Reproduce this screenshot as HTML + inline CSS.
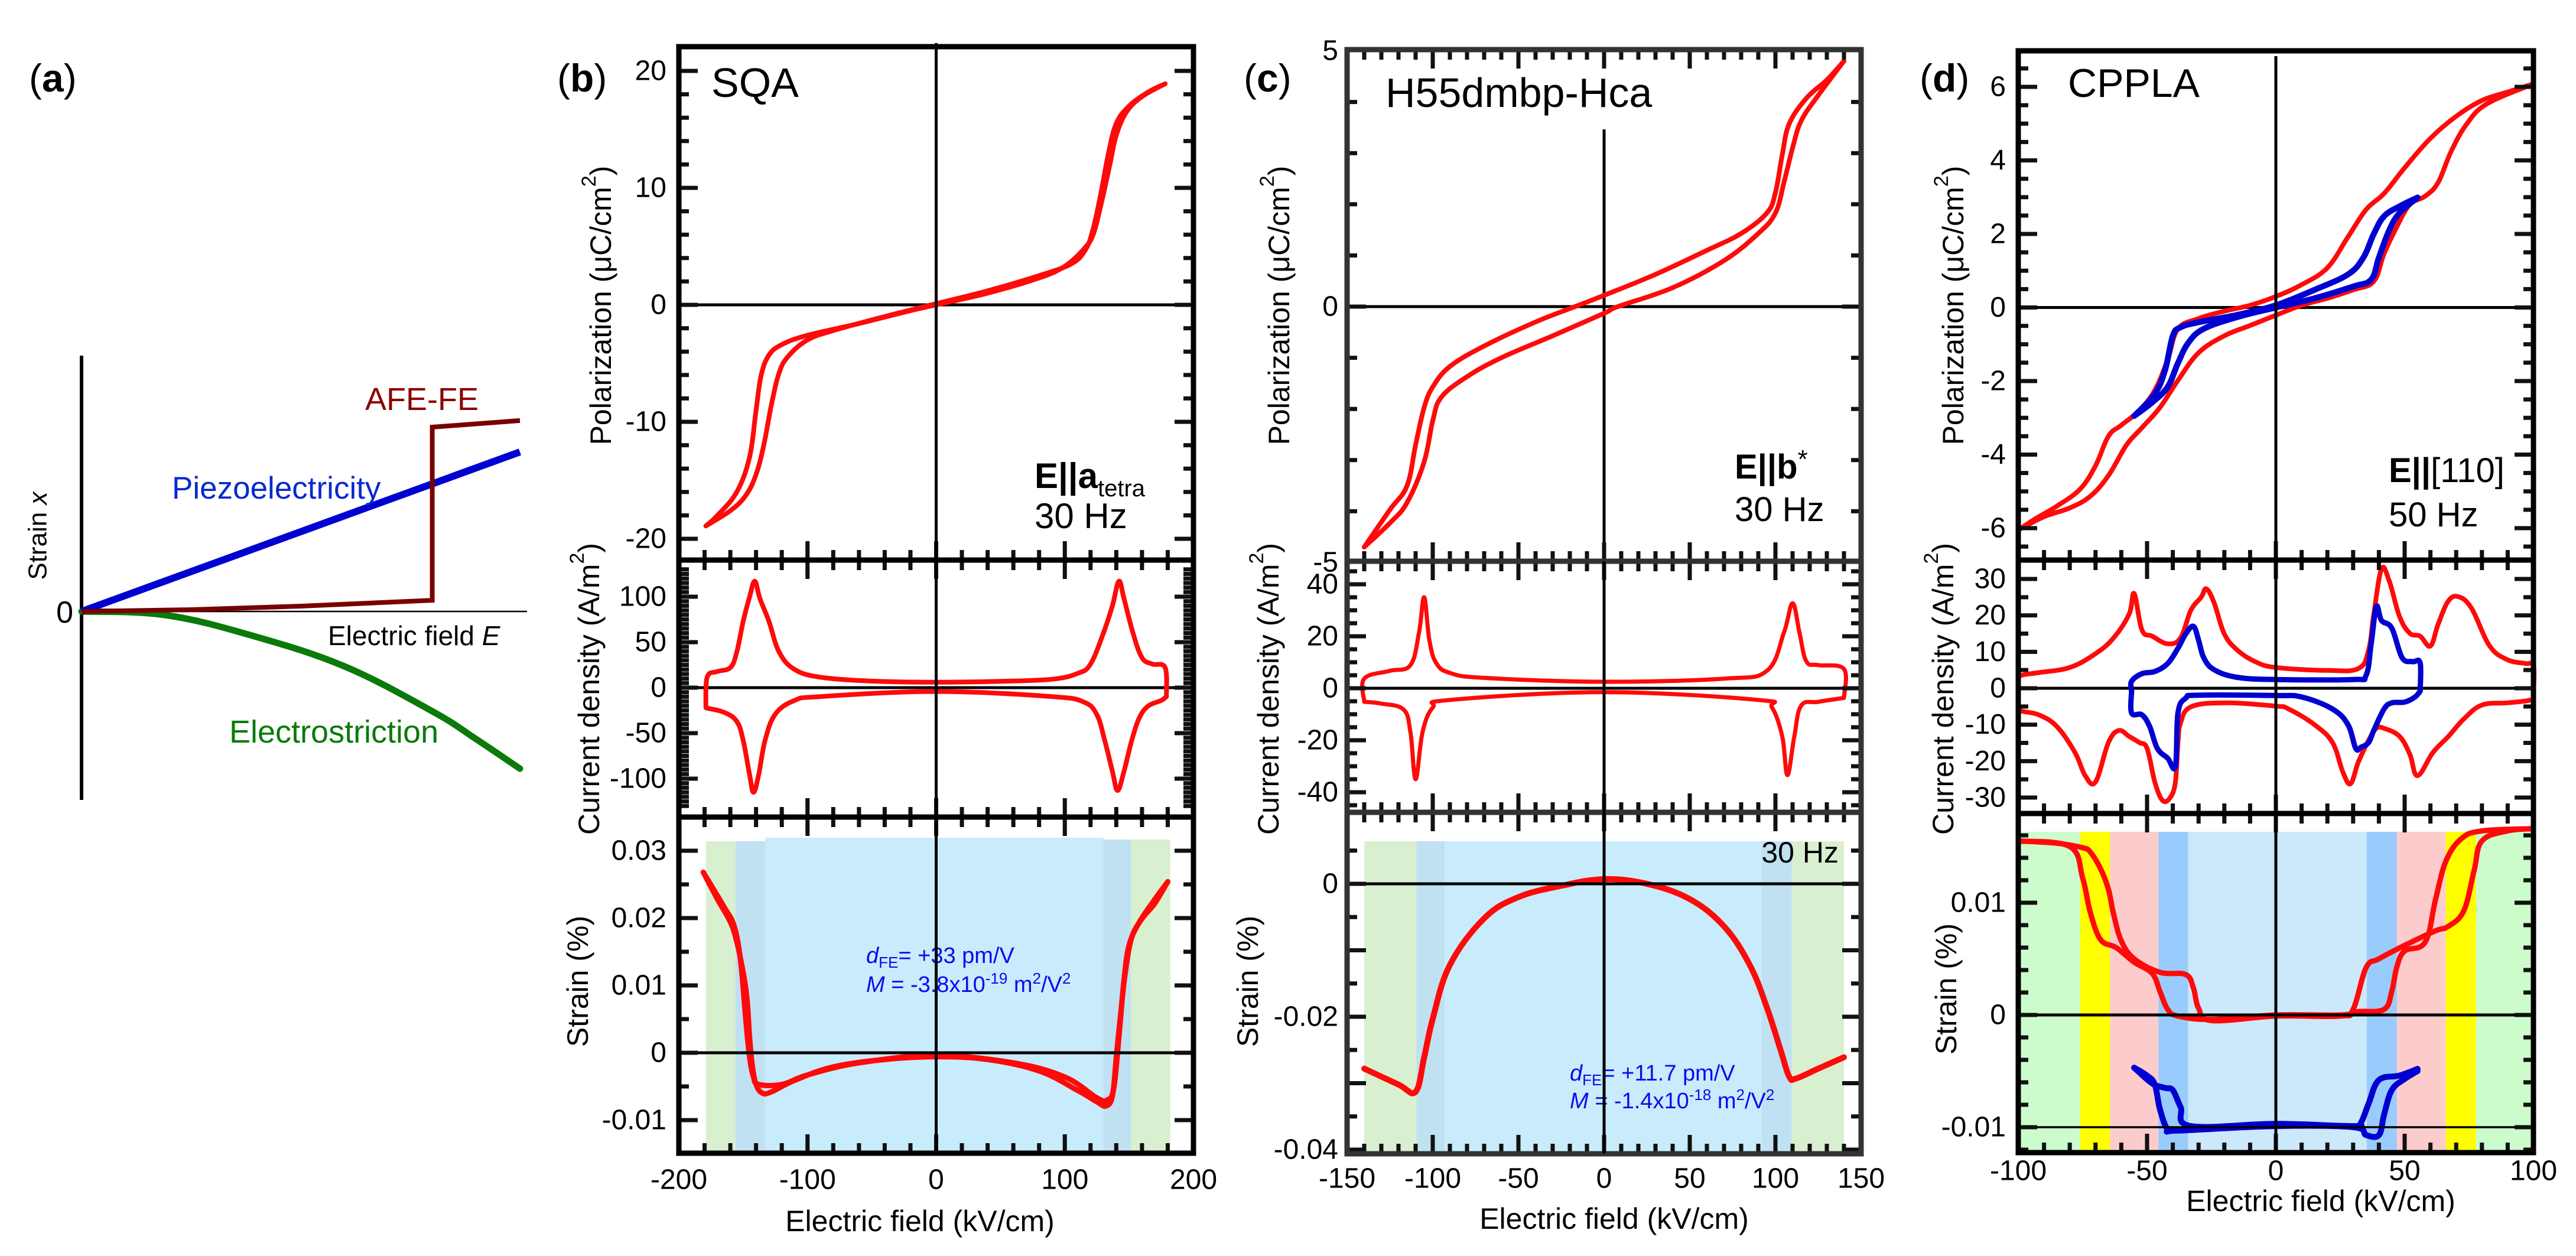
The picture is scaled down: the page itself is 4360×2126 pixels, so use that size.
<!DOCTYPE html>
<html><head><meta charset="utf-8">
<style>
html,body{margin:0;padding:0;background:#fff;}
svg{display:block;font-family:"Liberation Sans",Arial,sans-serif;}
</style></head>
<body>
<svg id="fig" width="4360" height="2126" viewBox="0 0 4360 2126" xmlns="http://www.w3.org/2000/svg"></svg>
<script>
// ---------------- DATA ----------------
const aPiezo = [[0,0],[1,0.9]];
const aAFE = [[0,0],[0.25,0.01],[0.5,0.03],[0.8,0.063],[0.8,1.04],[1,1.077]];
const aElectro = [[0,0],[0.19,-0.02],[0.39,-0.137],[0.6,-0.31],[0.8,-0.563],[0.9,-0.72],[1,-0.887]];

const bPolUp = [[-179,-18.9],[-170,-18],[-155,-16],[-145,-13],[-140,-9],[-136,-6],[-130,-4.3],[-120,-3.4],[-100,-2.6],[-60,-1.6],[-20,-0.5],[0,0],[40,1.0],[80,2.3],[100,3.3],[115,4.8],[122,6],[128,8.5],[135,12],[140,14.5],[148,16.5],[160,17.8],[178,18.9]];
const bPolDn = [[178,18.9],[165,18.2],[150,17],[140,15.5],[134,13],[128,9.5],[122,6.5],[116,4.7],[105,3.5],[80,2.5],[40,1.2],[0,0.1],[-40,-1.0],[-80,-2.2],[-100,-3.0],[-115,-4.4],[-122,-5.8],[-128,-8.5],[-134,-12],[-140,-14.5],[-148,-16.3],[-160,-17.6],[-179,-18.9]];
const bCurUp = [[-179,-22],[-178,11.5],[-170,17.8],[-160,22],[-155,39],[-150,73],[-145,100],[-141,117],[-137,98],[-130,73],[-122,39],[-110,20],[-90,11.5],[-50,7.2],[0,6],[50,7],[90,9.3],[110,15.7],[120,26],[130,60],[137,90],[142,117],[146,98],[153,60],[160,33],[168,26],[178,22],[179,-9.8]];
const bCurDn = [[179,-9.8],[175,-14],[165,-20],[158,-33],[152,-58],[146,-92],[141,-113],[137,-92],[131,-58],[125,-30],[115,-16],[90,-9.8],[0,-4.2],[-90,-9.8],[-110,-14],[-125,-29],[-133,-58],[-138,-96],[-142,-115],[-145,-96],[-150,-58],[-155,-37],[-165,-27],[-178,-22.5]];
const bStrain1 = [[-181,0.0268],[-170,0.0228],[-160,0.0194],[-155,0.0165],[-150,0.0119],[-147,0.0079],[-145,0.0022],[-143,-0.0018],[-140,-0.0047],[-135,-0.006],[-128,-0.0058],[-110,-0.0041],[-80,-0.0021],[-40,-0.001],[0,-0.0006],[40,-0.001],[80,-0.0027],[110,-0.0056],[125,-0.0073],[132,-0.0079],[137,-0.0064],[140,-0.0007],[143,0.005],[147,0.0119],[152,0.0171],[160,0.0199],[170,0.0222],[180,0.0254]];
const bStrain2 = [[-181,0.0268],[-165,0.0217],[-157,0.0188],[-152,0.0136],[-148,0.005],[-145,-0.0007],[-142,-0.0036],[-138,-0.0047],[-120,-0.0047],[-100,-0.0033],[-60,-0.0015],[0,-0.0004],[60,-0.0015],[100,-0.0036],[125,-0.0067],[133,-0.007],[138,-0.0053],[142,0.0022],[146,0.0108],[150,0.016],[158,0.0194],[170,0.0228],[180,0.0254]];
const bBandEdges = [-179,-156,-133,130,151.5,182];

const cPolDn = [[140,4.8],[130,4.43],[118,4.07],[108,3.57],[104,2.97],[100,2.23],[95,1.83],[80,1.43],[60,1.1],[30,0.63],[0,0.22],[-17,0],[-40,-0.3],[-70,-0.77],[-90,-1.17],[-100,-1.57],[-105,-1.97],[-110,-2.7],[-115,-3.5],[-125,-3.97],[-140,-4.7]];
const cPolUp = [[-140,-4.7],[-125,-4.23],[-115,-3.83],[-105,-3.03],[-100,-2.23],[-95,-1.77],[-80,-1.37],[-60,-1.0],[-30,-0.57],[0,-0.13],[8,0],[40,0.37],[70,0.9],[90,1.43],[100,1.83],[105,2.43],[110,3.1],[115,3.63],[125,4.13],[140,4.8]];
const cCurUp = [[-140,-5.2],[-140,3.7],[-125,6.7],[-113,8.9],[-108,21.5],[-105,35],[-102,18.6],[-98,9.7],[-90,5.9],[-70,4],[0,2.5],[70,3.7],[95,6.7],[105,21.5],[110,32.7],[114,21.5],[118,10.4],[125,8.9],[140,7.4],[140,-3.7]];
const cCurDn = [[140,-3.7],[125,-5.2],[115,-6.7],[111,-18.6],[107,-33.4],[104,-18.6],[98,-7.4],[90,-4.5],[0,-1.5],[-90,-4.5],[-100,-7.4],[-106,-17],[-110,-35],[-113,-17],[-117,-8.2],[-130,-5.9],[-140,-5.2]];
const cStrain = [[-140,-0.0278],[-120,-0.0302],[-110,-0.0313],[-105,-0.0261],[-100,-0.0203],[-90,-0.0122],[-70,-0.0052],[-50,-0.002],[-25,-0.0003],[0,0.0007],[25,0],[50,-0.0023],[70,-0.0064],[85,-0.0122],[95,-0.0186],[103,-0.025],[108,-0.029],[112,-0.0293],[125,-0.0278],[140,-0.0261]];
const cBandEdges = [-140,-109.5,-93,92,109.5,140];

const dPolDn = [[100,6.08],[90,5.86],[80,5.63],[70,5.2],[60,4.6],[50,3.8],[42,3.1],[35,2.66],[28,1.92],[20,1.08],[10,0.62],[0,0.3],[-10,0.06],[-20,-0.1],[-30,-0.3],[-38,-0.58],[-42,-1.42],[-47,-2.25],[-53,-2.8],[-60,-3.2],[-65,-3.5],[-70,-4.3],[-76,-4.94],[-85,-5.4],[-93,-5.73],[-100,-6.05]];
const dPolUp = [[-100,-6.05],[-90,-5.69],[-80,-5.45],[-72,-5.13],[-65,-4.57],[-58,-3.74],[-52,-3.27],[-45,-2.72],[-38,-1.98],[-30,-1.23],[-20,-0.77],[-10,-0.49],[0,-0.21],[10,0.06],[20,0.25],[30,0.48],[38,0.71],[42,1.46],[47,2.2],[52,2.8],[58,3.03],[63,3.4],[68,4.24],[74,4.98],[82,5.54],[100,6.08]];
const dPolBlueUp = [[-55,-2.95],[-48,-2.58],[-42,-2.16],[-38,-1.51],[-34,-0.96],[-28,-0.58],[-15,-0.26],[0,0],[15,0.25],[30,0.57],[37,0.76],[40,1.36],[44,2.1],[48,2.57],[55,2.99]];
const dPolBlueDn = [[55,2.99],[48,2.75],[42,2.48],[38,2.0],[34,1.36],[28,0.9],[15,0.48],[0,0.06],[-15,-0.2],[-30,-0.4],[-37,-0.54],[-40,-0.77],[-43,-1.7],[-47,-2.35],[-55,-2.95]];
const dCurUp = [[-100,-5],[-100,1.9],[-99,3.5],[-92,4.3],[-80,5.7],[-70,9.5],[-63,13.8],[-57,20.3],[-55,26],[-52,16],[-48,14.3],[-42,12.2],[-37,13.8],[-33,21.4],[-29,25],[-27,27.3],[-24,23.5],[-20,14.9],[-15,10.5],[-8,7.3],[0,5.7],[20,4.9],[32,5.4],[36,10.5],[38,20.3],[41,32.7],[44,29.5],[48,19.7],[52,15.1],[56,14.3],[60,11.6],[63,17.6],[67,24],[71,25.1],[76,21.9],[83,11.6],[90,7.8],[97,6.8],[100,6.2],[100,-1.4],[100,-3]];
const dCurDn = [[100,-3],[97,-3.5],[90,-4],[80,-4.6],[73,-8.4],[67,-13.2],[61,-17.6],[55,-24],[52,-18.1],[48,-13.2],[42,-11],[39,-11],[36,-14.3],[32,-20.3],[29,-26.2],[26,-23],[22,-14.9],[15,-10],[5,-5.7],[0,-4.9],[-20,-4],[-33,-5.1],[-37,-9.5],[-38,-14.9],[-39,-25.7],[-41,-30],[-44,-30.8],[-47,-25.7],[-50,-16.5],[-53,-14.9],[-57,-13.2],[-61,-11.6],[-65,-14.9],[-70,-25.7],[-74,-24],[-78,-17.6],[-85,-10.5],[-92,-7.3],[-99,-6.2],[-100,-5]];
const dCurBlueUp = [[-56,-0.8],[-56,1.9],[-52,4],[-47,4.6],[-42,6.8],[-38,11],[-35,14.9],[-32,17],[-30,13.2],[-28,8.4],[-24,5.1],[-15,3],[0,2.4],[30,2.4],[35,3.5],[37,12.2],[39,22.4],[41,18.6],[45,16.5],[49,8.4],[53,7.3],[56,7],[56,-0.8]];
const dCurBlueDn = [[56,-0.8],[54,-2.4],[50,-3.8],[45,-4],[42,-5.7],[38,-11.6],[36,-14.9],[33,-16.2],[31,-16.5],[28,-10],[22,-5.7],[10,-2.4],[0,-2],[-30,-1.9],[-35,-2.7],[-38,-6.8],[-39,-21.4],[-42,-19.2],[-46,-16.5],[-49,-10.5],[-52,-7.3],[-56,-6.8],[-56,-0.8]];
const dStrainA = [[-100,0.0155],[-85,0.0153],[-75,0.0149],[-72,0.0145],[-68,0.013],[-65,0.0112],[-63,0.009],[-60,0.0066],[-55,0.005],[-45,0.0038],[-35,0.0036],[-32,0.0024],[-30,0.0006],[-25,-0.0005],[0,-0.0001],[25,-0.0001],[30,0.0005],[35,0.0042],[40,0.005],[50,0.0062],[62,0.0075],[67,0.0079],[73,0.0093],[77,0.0129],[80,0.0155],[90,0.0164],[100,0.0166]];
const dStrainB = [[-100,0.0155],[-80,0.015],[-75,0.0122],[-72,0.0091],[-68,0.0067],[-62,0.006],[-55,0.0047],[-48,0.0037],[-45,0.0021],[-42,0.0005],[-38,-0.0001],[-25,-0.0004],[0,0],[25,0],[32,0.0003],[42,0.0005],[45,0.0021],[47,0.0043],[50,0.0057],[58,0.0065],[62,0.0103],[66,0.0137],[72,0.0157],[80,0.0164],[100,0.0166]];
const dStrainBlueA = [[-55,-0.0047],[-50,-0.0054],[-47,-0.0062],[-45,-0.0084],[-42,-0.0102],[-38,-0.0103],[0,-0.0099],[30,-0.01],[35,-0.0107],[40,-0.0107],[42,-0.0089],[45,-0.0067],[50,-0.0057],[55,-0.005]];
const dStrainBlueB = [[-55,-0.0047],[-48,-0.0061],[-43,-0.0065],[-40,-0.0067],[-37,-0.0082],[-33,-0.0099],[0,-0.0097],[30,-0.0099],[33,-0.0096],[36,-0.0079],[40,-0.0058],[48,-0.0054],[55,-0.0048]];
const dBandEdges = [-100,-76,-64.4,-45.6,-34,35.3,47,66,77.7,100];

const bXTicks = [-200,-100,0,100,200];
const cXTicks = [-150,-100,-50,0,50,100,150];
const dXTicks = [-100,-50,0,50,100];
const bPolTicks = [20,10,0,-10,-20];
const bCurTicks = [100,50,0,-50,-100];
const bStrTicks = [0.03,0.02,0.01,0,-0.01];
const cPolTicks = [5,0,-5];
const cCurTicks = [40,20,0,-20,-40];
const cStrTicks = [0,-0.02,-0.04];
const dPolTicks = [6,4,2,0,-2,-4,-6];
const dCurTicks = [30,20,10,0,-10,-20,-30];
const dStrTicks = [0.01,0,-0.01];

// ---------------- DRAWING ----------------
const NS = "http://www.w3.org/2000/svg";
const svg = document.getElementById('fig');
function mk(tag, attrs, parent) {
  const e = document.createElementNS(NS, tag);
  for (const k in attrs) e.setAttribute(k, attrs[k]);
  (parent || svg).appendChild(e);
  return e;
}
function lin(v1, p1, v2, p2) { return v => p1 + (v - v1) * (p2 - p1) / (v2 - v1); }

function smoothPath(P) {
  if (P.length < 3) return 'M' + P.map(p => p[0].toFixed(1) + ',' + p[1].toFixed(1)).join('L');
  let d = 'M' + P[0][0].toFixed(1) + ',' + P[0][1].toFixed(1);
  const k = 0.18;
  for (let i = 0; i < P.length - 1; i++) {
    const p0 = P[i - 1] || P[i], p1 = P[i], p2 = P[i + 1], p3 = P[i + 2] || P[i + 1];
    const c1 = [p1[0] + (p2[0] - p0[0]) * k, p1[1] + (p2[1] - p0[1]) * k];
    const c2 = [p2[0] - (p3[0] - p1[0]) * k, p2[1] - (p3[1] - p1[1]) * k];
    d += 'C' + c1[0].toFixed(1) + ',' + c1[1].toFixed(1) + ' ' + c2[0].toFixed(1) + ',' + c2[1].toFixed(1) + ' ' + p2[0].toFixed(1) + ',' + p2[1].toFixed(1);
  }
  return d;
}
function polyline(pts, fx, fy, color, w, name, parent) {
  const P = pts.map(p => [fx(p[0]), fy(p[1])]);
  const e = mk('path', {d: smoothPath(P), fill: 'none', stroke: color, 'stroke-width': w, 'stroke-linejoin': 'round', 'stroke-linecap': 'round'}, parent);
  
  
  return e;
}
function straight(pts, fx, fy, color, w, name, parent) {
  const e = mk('polyline', {points: pts.map(p => fx(p[0]).toFixed(1) + ',' + fy(p[1]).toFixed(1)).join(' '), fill: 'none', stroke: color, 'stroke-width': w, 'stroke-linejoin': 'miter'}, parent);
  
  
  return e;
}
function text(str, x, y, size, opts, name, parent) {
  const e = mk('text', Object.assign({x: x, y: y, 'font-size': size, fill: '#000'}, opts || {}), parent);
  e.textContent = str;
  
  
  return e;
}
function fmt(v) { return (v < 0 ? '-' : '') + String(Math.abs(v)); }

function ticks(g, L, R, t, b, fx, fy, xmin, xmax, xMaj, xMin, ymin, ymax, yMaj, yMin, sides) {
  const ML = 32, mL = 17, sw = 7, col = '#111';
  const eps = 1e-9;
  const yStart = Math.ceil(ymin / yMin - eps) * yMin;
  for (let v = yStart; v <= ymax + eps; v += yMin) {
    const isMaj = Math.abs(v / yMaj - Math.round(v / yMaj)) < 1e-6;
    const y = fy(v); if (y < t + 4 || y > b - 4) continue;
    const len = isMaj ? ML : mL;
    const tk = mk('path', {d: `M${L},${y}h${len}M${R},${y}h${-len}`, stroke: col, 'stroke-width': sw}, g);
    
    
  }
  const xStart = Math.ceil(xmin / xMin - eps) * xMin;
  for (let v = xStart; v <= xmax + eps; v += xMin) {
    const isMaj = Math.abs(v / xMaj - Math.round(v / xMaj)) < 1e-6;
    const x = fx(v); if (x < L + 4 || x > R - 4) continue;
    const len = isMaj ? ML : mL;
    let d = '';
    if (sides.bottom) d += `M${x},${b}v${-len}`;
    if (sides.top) d += `M${x},${t}v${len}`;
    if (!d) continue;
    const tk = mk('path', {d: d, stroke: col, 'stroke-width': sw}, g);
    
    
  }
}

function bands(g, edges, colors, fx, top, bottom, tops) {
  for (let i = 0; i < edges.length - 1; i++) {
    const r = mk('rect', {x: fx(edges[i]), y: tops ? tops[i] : top, width: fx(edges[i + 1]) - fx(edges[i]), height: bottom - (tops ? tops[i] : top), fill: colors[i]}, g);
    
    
  }
}
function frame(g, L, R, t, b, col) {
  const f = mk('rect', {x: L, y: t, width: R - L, height: b - t, fill: 'none', stroke: col || '#000', 'stroke-width': 9}, g);
  
  
}
function hline(g, L, R, y, w, name) {
  const l = mk('line', {x1: L, x2: R, y1: y, y2: y, stroke: '#000', 'stroke-width': w}, g);
  
  
}
function vline(g, x, y1, y2, w, name) {
  const l = mk('line', {x1: x, x2: x, y1: y1, y2: y2, stroke: '#000', 'stroke-width': w}, g);
  
  
}
function ylabel(g, x, y, parts, name) {
  const t = mk('text', {x: x, y: y, 'font-size': 50, 'text-anchor': 'middle', 'dominant-baseline': 'central', transform: `rotate(-90 ${x} ${y})`}, g);
  parts.forEach(p => {
    const s = mk('tspan', p.sup ? {'font-size': 34, dy: -20} : (p.after ? {dy: 20} : {}), t);
    s.textContent = p.s;
  });
  
  
}
function tickLabels(g, vals, xr, fy, name) {
  vals.forEach(v => { text(fmt(v), xr, fy(v), 48, {'text-anchor': 'end', 'dominant-baseline': 'central'}, name, g); });
}
function xTickLabels(g, vals, fx, y, name) {
  vals.forEach(v => { text(fmt(v), fx(v), y, 48, {'text-anchor': 'middle', 'dominant-baseline': 'central'}, name, g); });
}
const polParts = [{s: 'Polarization (μC/cm'}, {s: '2', sup: true}, {s: ')', after: true}];
const curParts = [{s: 'Current density (A/m'}, {s: '2', sup: true}, {s: ')', after: true}];
const strParts = [{s: 'Strain (%)'}];
const RED = '#ff0a0a', BLUE = '#0000d0', RW = 8, BW = 10;

// ===== Panel (a) =====
(function(){
  const g = mk('g', {});
  
  
  const fx = v => 138 + v * 742, fy = v => 1035 - v * 300;
  vline(g, 138, 602, 1354, 6, 'strain-axis');
  hline(g, 138, 892, 1035, 2.5, 'field-axis');
  polyline(aElectro, fx, fy, '#0a7a0a', 11, 'electrostriction-curve', g);
  straight(aPiezo, fx, fy, '#0000d0', 12, 'piezoelectricity-line', g);
  straight(aAFE, fx, fy, '#780000', 8, 'afe-fe-curve', g);
  text('AFE-FE', 618, 694, 54, {fill: '#8b0000'}, 'afe-fe-label', g);
  text('Piezoelectricity', 291, 844, 53, {fill: '#0a28d0'}, 'piezoelectricity-label', g);
  const ef = text('Electric field  ', 555, 1092, 46, {}, 'field-axis-title', g);
  const ei = mk('tspan', {'font-style': 'italic'}, ef); ei.textContent = 'E';
  text('Electrostriction', 388, 1257, 54, {fill: '#0a7a0a'}, 'electrostriction-label', g);
  const sx = mk('text', {x: 64, y: 907, 'font-size': 44, 'text-anchor': 'middle', 'dominant-baseline': 'central', transform: 'rotate(-90 64 907)'}, g);
  sx.textContent = 'Strain ';
  const sxi = mk('tspan', {'font-style': 'italic'}, sx); sxi.textContent = 'x';
  
  
  text('0', 124, 1054, 52, {'text-anchor': 'end'}, 'zero-label', g);
})();

function panelLabel(x, letter) {
  const t = mk('text', {x: x, y: 155, 'font-size': 66});
  t.appendChild(document.createTextNode('('));
  const b = mk('tspan', {'font-weight': 'bold'}, t); b.textContent = letter;
  t.appendChild(document.createTextNode(')'));
  
  
}
panelLabel(49, 'a'); panelLabel(943, 'b'); panelLabel(2105, 'c'); panelLabel(3249, 'd');

function annot(g, x, y1, y2, dval, mval, mexp) {
  const d1 = text('', x, y1, 38, {fill: '#0a0af0'}, 'dfe-annotation', g);
  const d1a = mk('tspan', {'font-style': 'italic'}, d1); d1a.textContent = 'd';
  const d1b = mk('tspan', {'font-size': 26, dy: 8}, d1); d1b.textContent = 'FE';
  const d1c = mk('tspan', {dy: -8}, d1); d1c.textContent = '= ' + dval + ' pm/V';
  const m1 = text('', x, y2, 38, {fill: '#0a0af0'}, 'm-annotation', g);
  const m1a = mk('tspan', {'font-style': 'italic'}, m1); m1a.textContent = 'M';
  const m1b = mk('tspan', {}, m1); m1b.textContent = ' = ' + mval + 'x10';
  const m1c = mk('tspan', {'font-size': 26, dy: -14}, m1); m1c.textContent = mexp;
  const m1d = mk('tspan', {dy: 14}, m1); m1d.textContent = ' m';
  const m1e = mk('tspan', {'font-size': 26, dy: -14}, m1); m1e.textContent = '2';
  const m1f = mk('tspan', {dy: 14}, m1); m1f.textContent = '/V';
  const m1g = mk('tspan', {'font-size': 26, dy: -14}, m1); m1g.textContent = '2';
}

// ===== Panel (b) =====
(function(){
  const L = 1149, R = 2020;
  const fx = lin(-200, L, 200, R);
  const g = mk('g', {});
  
  
  const t1 = 79, b1 = 948, fy1 = lin(20, 120, -20, 912);
  hline(g, L, R, fy1(0), 5, 'zero-line');
  polyline(bPolUp, fx, fy1, RED, RW, 'polarization-up-branch', g);
  polyline(bPolDn, fx, fy1, RED, RW, 'polarization-down-branch', g);
  ticks(g, L, R, t1, b1, fx, fy1, -200, 200, 100, 20, -22, 22, 10, 2, {bottom: true});
  frame(g, L, R, t1, b1);
  tickLabels(g, bPolTicks, 1128, fy1, 'polarization-tick-label');
  ylabel(g, 1017, 517, polParts, 'polarization-axis-title');
  text('SQA', 1204, 164, 70, {}, 'sample-name', g);
  const ea = text('E||', 1751, 826, 60, {'font-weight': 'bold'}, 'field-direction', g);
  const eb = mk('tspan', {'font-weight': 'bold'}, ea); eb.textContent = 'a';
  const es = mk('tspan', {'font-weight': 'normal', 'font-size': 40, dy: 14}, ea); es.textContent = 'tetra';
  text('30 Hz', 1751, 894, 60, {}, 'frequency-label', g);
  const t2 = 948, b2 = 1383, fy2 = lin(0, 1164, 100, 1010);
  hline(g, L, R, fy2(0), 5, 'zero-line');
  polyline(bCurUp, fx, fy2, RED, RW, 'current-up-branch', g);
  polyline(bCurDn, fx, fy2, RED, RW, 'current-down-branch', g);
  ticks(g, L, R, t2, b2, fx, fy2, -200, 200, 100, 20, -130, 130, 50, 5, {bottom: true, top: true});
  frame(g, L, R, t2, b2);
  tickLabels(g, bCurTicks, 1128, fy2, 'current-tick-label');
  ylabel(g, 997, 1166, curParts, 'current-axis-title');
  const t3 = 1383, b3 = 1952, fy3 = lin(0, 1782, 0.01, 1668);
  bands(g, bBandEdges, ['#d9f0d0', '#bfe1f1', '#c8ecfb', '#bfe1f1', '#d9f0d0'], fx, 1424, b3, [1424, 1424, 1418, 1421, 1421]);
  polyline(bStrain1, fx, fy3, RED, 9, 'strain-curve-1', g);
  polyline(bStrain2, fx, fy3, RED, 9, 'strain-curve-2', g);
  hline(g, L, R, fy3(0), 5, 'zero-line');
  ticks(g, L, R, t3, b3, fx, fy3, -200, 200, 100, 20, -0.015, 0.035, 0.01, 0.005, {bottom: true, top: true});
  frame(g, L, R, t3, b3);
  tickLabels(g, bStrTicks, 1128, fy3, 'strain-tick-label');
  ylabel(g, 978, 1661, strParts, 'strain-axis-title');
  annot(g, 1466, 1630, 1679, '+33', '-3.8', '-19');
  vline(g, fx(0), 73, b3, 5, 'zero-field-line');
  xTickLabels(g, bXTicks, fx, 1997, 'x-tick-label');
  text('Electric field (kV/cm)', 1557, 2067, 50, {'text-anchor': 'middle', 'dominant-baseline': 'central'}, 'x-axis-title', g);
})();

// ===== Panel (c) =====
(function(){
  const L = 2280, R = 3150;
  const fx = lin(-150, L, 150, R);
  const g = mk('g', {});
  
  
  const t1 = 84, b1 = 950, fy1 = lin(5, 86, -5, 952);
  hline(g, L, R, fy1(0), 5, 'zero-line');
  vline(g, fx(0), 219, b1, 5, 'zero-field-line');
  polyline(cPolUp, fx, fy1, RED, RW, 'polarization-up-branch', g);
  polyline(cPolDn, fx, fy1, RED, RW, 'polarization-down-branch', g);
  ticks(g, L, R, t1, b1, fx, fy1, -150, 150, 50, 10, -5, 5, 5, 1, {bottom: true, top: true});
  frame(g, L, R, t1, b1, '#333');
  tickLabels(g, cPolTicks, 2265, fy1, 'polarization-tick-label');
  ylabel(g, 2165, 517, polParts, 'polarization-axis-title');
  text('H55dmbp-Hca', 2345, 181, 70, {}, 'sample-name', g);
  const ea = text('E||', 2936, 810, 58, {'font-weight': 'bold'}, 'field-direction', g);
  const eb = mk('tspan', {'font-weight': 'bold'}, ea); eb.textContent = 'b';
  const es = mk('tspan', {'font-weight': 'normal', 'font-size': 44, dy: -18}, ea); es.textContent = '*';
  text('30 Hz', 2936, 882, 58, {}, 'frequency-label', g);
  const t2 = 950, b2 = 1375, fy2 = lin(0, 1165, 20, 1077);
  hline(g, L, R, fy2(0), 5, 'zero-line');
  polyline(cCurUp, fx, fy2, RED, 7, 'current-up-branch', g);
  polyline(cCurDn, fx, fy2, RED, 7, 'current-down-branch', g);
  ticks(g, L, R, t2, b2, fx, fy2, -150, 150, 50, 10, -48, 48, 20, 5, {bottom: true, top: true});
  frame(g, L, R, t2, b2, '#333');
  tickLabels(g, cCurTicks, 2265, fy2, 'current-tick-label');
  ylabel(g, 2147, 1166, curParts, 'current-axis-title');
  const t3 = 1375, b3 = 1953, fy3 = lin(0, 1496, -0.02, 1721);
  bands(g, cBandEdges, ['#d9f0d0', '#bfe1f1', '#c8ecfb', '#bfe1f1', '#d9f0d0'], fx, 1424, b3);
  polyline(cStrain, fx, fy3, RED, 10, 'strain-curve', g);
  hline(g, L, R, fy3(0), 5, 'zero-line');
  ticks(g, L, R, t3, b3, fx, fy3, -150, 150, 50, 10, -0.04, 0.008, 0.01, 0.005, {bottom: true, top: true});
  frame(g, L, R, t3, b3, '#333');
  tickLabels(g, cStrTicks, 2265, fy3, 'strain-tick-label');
  ylabel(g, 2112, 1661, strParts, 'strain-axis-title');
  text('30 Hz', 3112, 1460, 50, {'text-anchor': 'end'}, 'strain-frequency-label', g);
  annot(g, 2657, 1829, 1876, '+11.7', '-1.4', '-18');
  vline(g, fx(0), t2, b3, 5, 'zero-field-line');
  xTickLabels(g, cXTicks, fx, 1995, 'x-tick-label');
  text('Electric field (kV/cm)', 2732, 2063, 50, {'text-anchor': 'middle', 'dominant-baseline': 'central'}, 'x-axis-title', g);
})();

// ===== Panel (d) =====
(function(){
  const L = 3416, R = 4288;
  const fx = lin(-100, L, 100, R);
  const g = mk('g', {});
  
  
  const t1 = 86, b1 = 948, fy1 = lin(6, 147, -6, 894);
  hline(g, L, R, fy1(0), 5, 'zero-line');
  polyline(dPolUp, fx, fy1, RED, RW, 'polarization-up-branch', g);
  polyline(dPolDn, fx, fy1, RED, RW, 'polarization-down-branch', g);
  polyline(dPolBlueUp, fx, fy1, BLUE, BW, 'minor-loop-up-branch', g);
  polyline(dPolBlueDn, fx, fy1, BLUE, BW, 'minor-loop-down-branch', g);
  ticks(g, L, R, t1, b1, fx, fy1, -100, 100, 50, 10, -7, 7, 2, 0.5, {bottom: true});
  frame(g, L, R, t1, b1);
  tickLabels(g, dPolTicks, 3395, fy1, 'polarization-tick-label');
  ylabel(g, 3306, 517, polParts, 'polarization-axis-title');
  text('CPPLA', 3500, 164, 68, {}, 'sample-name', g);
  const ea = text('E||', 4043, 816, 58, {'font-weight': 'bold'}, 'field-direction', g);
  const eb = mk('tspan', {'font-weight': 'normal'}, ea); eb.textContent = '[110]';
  text('50 Hz', 4043, 891, 58, {}, 'frequency-label', g);
  const t2 = 948, b2 = 1377, fy2 = lin(0, 1165, 30, 980);
  hline(g, L, R, fy2(0), 5, 'zero-line');
  polyline(dCurUp, fx, fy2, RED, RW, 'current-up-branch', g);
  polyline(dCurDn, fx, fy2, RED, RW, 'current-down-branch', g);
  polyline(dCurBlueUp, fx, fy2, BLUE, 9, 'minor-current-up-branch', g);
  polyline(dCurBlueDn, fx, fy2, BLUE, 9, 'minor-current-down-branch', g);
  ticks(g, L, R, t2, b2, fx, fy2, -100, 100, 50, 10, -34, 34, 10, 5, {bottom: true, top: true});
  frame(g, L, R, t2, b2);
  tickLabels(g, dCurTicks, 3395, fy2, 'current-tick-label');
  ylabel(g, 3289, 1166, curParts, 'current-axis-title');
  const t3 = 1377, b3 = 1951, fy3 = lin(0, 1718, -0.01, 1908);
  bands(g, dBandEdges, ['#ccfccc', '#ffff00', '#fccccc', '#99ccfc', '#cce9fb', '#99ccfc', '#fccccc', '#ffff00', '#ccfccc'], fx, 1408, b3);
  polyline(dStrainA, fx, fy3, RED, 9, 'strain-curve-a', g);
  polyline(dStrainB, fx, fy3, RED, 9, 'strain-curve-b', g);
  polyline(dStrainBlueA, fx, fy3, BLUE, 10, 'minor-strain-curve-a', g);
  polyline(dStrainBlueB, fx, fy3, BLUE, 10, 'minor-strain-curve-b', g);
  hline(g, L, R, fy3(0), 5, 'zero-line');
  hline(g, L, R, fy3(-0.01), 3.5, 'reference-line');
  ticks(g, L, R, t3, b3, fx, fy3, -100, 100, 50, 10, -0.012, 0.018, 0.01, 0.002, {bottom: true, top: true});
  frame(g, L, R, t3, b3);
  tickLabels(g, dStrTicks, 3395, fy3, 'strain-tick-label');
  ylabel(g, 3294, 1674, strParts, 'strain-axis-title');
  vline(g, fx(0), 95, b3, 5, 'zero-field-line');
  xTickLabels(g, dXTicks, fx, 1982, 'x-tick-label');
  text('Electric field (kV/cm)', 3928, 2033, 50, {'text-anchor': 'middle', 'dominant-baseline': 'central'}, 'x-axis-title', g);
})();
</script>
</body></html>
